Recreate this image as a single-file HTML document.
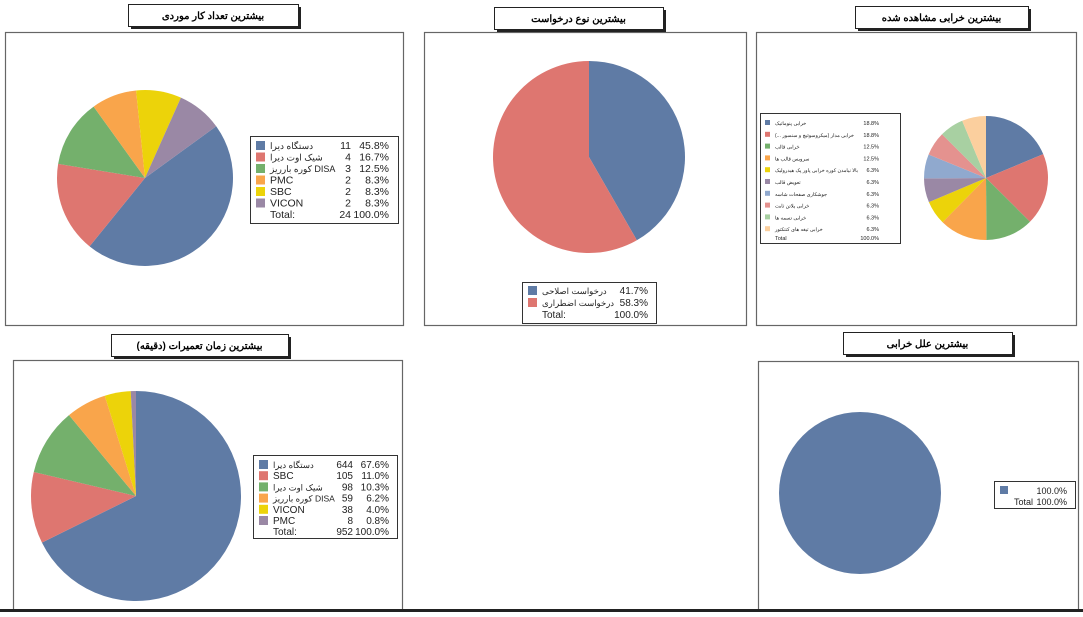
<!DOCTYPE html>
<html><head><meta charset="utf-8"><style>
body{margin:0;width:1083px;height:612px;background:#fff;overflow:hidden;font-family:"Liberation Sans","Noto Sans CJK SC",sans-serif}
svg text{font-family:"Liberation Sans","Noto Sans CJK SC",sans-serif}
</style></head><body>
<svg id="s" width="1083" height="612" xmlns="http://www.w3.org/2000/svg">
<g fill="#fff" stroke="#666" stroke-width="1.2">
<rect x="5.5" y="32.5" width="398" height="293"/>
<rect x="424.5" y="32.5" width="322" height="293"/>
<rect x="756.5" y="32.5" width="320" height="293"/>
<rect x="13.5" y="360.5" width="389" height="260"/>
<rect x="758.5" y="361.5" width="320" height="260"/>
</g>
<g id="titles"></g>
<g id="pies"></g>
<g font-size="10.5" fill="#222">
<rect x="250.5" y="136.5" width="148" height="87" fill="#fff" stroke="#333"/>
<g id="l1"></g>
<rect x="522.5" y="282.5" width="134" height="41" fill="#fff" stroke="#333"/>
<g id="l2"></g>
<rect x="253.5" y="455.5" width="144" height="83" fill="#fff" stroke="#333"/>
<g id="l4"></g>
<rect x="994.5" y="481.5" width="81" height="27" fill="#fff" stroke="#333"/>
<rect x="1000" y="486" width="8" height="8" fill="#5f7ba5"/>
<text x="1067" y="494" text-anchor="end" font-size="9">100.0%</text>
<text x="1014" y="505" font-size="9">Total</text>
<text x="1067" y="505" text-anchor="end" font-size="9">100.0%</text>
<rect x="760.5" y="113.5" width="140" height="130" fill="#fff" stroke="#333"/>
<g id="l3"></g>
</g>
<rect x="0" y="609" width="1083" height="3" fill="#222"/>
</svg>
<script>
const C=["#5f7ba5","#de7670","#74b06c","#f9a54b","#ecd30a","#9a88a5","#90a9ce","#e4928f","#a8d0a2","#fbcf9e"];
const NS="http://www.w3.org/2000/svg";
function el(p,t,a,txt){const e=document.createElementNS(NS,t);for(const k in a)e.setAttribute(k,a[k]);if(txt!=null)e.textContent=txt;document.getElementById(p).appendChild(e);return e;}
function pie(cx,cy,r,start,vals,cols){let a=start*Math.PI/180;const tot=vals.reduce((x,y)=>x+y,0);
vals.forEach((v,i)=>{const b=a+v/tot*2*Math.PI;const x1=cx+r*Math.sin(a),y1=cy-r*Math.cos(a),x2=cx+r*Math.sin(b),y2=cy-r*Math.cos(b);
el("pies","path",{d:`M${cx},${cy}L${x1},${y1}A${r},${r} 0 ${b-a>Math.PI?1:0} 1 ${x2},${y2}Z`,fill:cols[i]});a=b;});}
pie(145,178,88,54,[45.8,16.7,12.5,8.3,8.3,8.3],C);
pie(589,157,96,0,[41.7,58.3],C);
pie(986,178,62,0,[18.8,18.8,12.5,12.5,6.3,6.3,6.3,6.3,6.3,6.3],C);
pie(136,496,105,0,[67.6,11,10.3,6.2,4,0.8],C);
el("pies","circle",{cx:860,cy:493,r:81,fill:C[0]});
function title(x,y,w,t){el("titles","rect",{x:x+3,y:y+3,width:w,height:22,fill:"#222"});el("titles","rect",{x:x+.5,y:y+.5,width:w,height:22,fill:"#fff",stroke:"#222"});
el("titles","text",{x:x+w/2,y:y+15,"text-anchor":"middle","font-size":"10","font-weight":"bold",direction:"rtl"},t);}
title(128,4,170,"بیشترین تعداد کار موردی");
title(494,7,169,"بیشترین نوع درخواست");
title(855,6,173,"بیشترین خرابی مشاهده شده");
title(111,334,177,"بیشترین زمان تعمیرات (دقیقه)");
title(843,332,169,"بیشترین علل خرابی");
function leg(g,x,y,step,rows,cn,cp,fs,sw){rows.forEach((r,i)=>{const yy=y+i*step;if(r[0]!=null)el(g,"rect",{x:x,y:yy-sw+1,width:sw,height:sw,fill:C[r[0]]});
const latin=/^[A-Za-z:]+$/.test(r[1]);
el(g,"text",{x:x+sw+5,y:yy,"font-size":latin?fs:fs-1.5},r[1]);if(cn)el(g,"text",{x:cn,y:yy,"text-anchor":"end","font-size":fs},r[2]);el(g,"text",{x:cp,y:yy,"text-anchor":"end","font-size":fs},r[3]);});}
leg("l1",256,149,11.5,[[0,"دستگاه دیرا","11","45.8%"],[1,"شیک اوت دیرا","4","16.7%"],[2,"کوره بارریز DISA","3","12.5%"],[3,"PMC","2","8.3%"],[4,"SBC","2","8.3%"],[5,"VICON","2","8.3%"],[null,"Total:","24","100.0%"]],351,389,10.5,9);
leg("l2",528,294,12,[[0,"درخواست اصلاحی","","41.7%"],[1,"درخواست اضطراری","","58.3%"],[null,"Total:","","100.0%"]],0,648,10,9);
leg("l4",259,468,11.2,[[0,"دستگاه دیرا","644","67.6%"],[1,"SBC","105","11.0%"],[2,"شیک اوت دیرا","98","10.3%"],[3,"کوره بارریز DISA","59","6.2%"],[4,"VICON","38","4.0%"],[5,"PMC","8","0.8%"],[null,"Total:","952","100.0%"]],353,389,10,9);
const l3=[["خرابی پنوماتیک","18.8%"],["(... خرابی مدار (میکروسوئیچ و سنسور","18.8%"],["خرابی قالب","12.5%"],["سرویس قالب ها","12.5%"],["بالا نیامدن کوره خرابی پاور پک هیدرولیک","6.3%"],["تعویض قالب","6.3%"],["جوشکاری صفحات شاسه","6.3%"],["خرابی پلاتن ثابت","6.3%"],["خرابی تسمه ها","6.3%"],["خرابی تیغه های کنتکتور","6.3%"]];
l3.forEach((r,i)=>{const yy=125+i*11.8;el("l3","rect",{x:765,y:yy-5,width:5,height:5,fill:C[i]});el("l3","text",{x:775,y:yy,"font-size":5},r[0]);el("l3","text",{x:879,y:yy,"text-anchor":"end","font-size":5.5},r[1]);});
el("l3","text",{x:775,y:240,"font-size":5.5},"Total");el("l3","text",{x:879,y:240,"text-anchor":"end","font-size":5.5},"100.0%");
</script>
</body></html>
